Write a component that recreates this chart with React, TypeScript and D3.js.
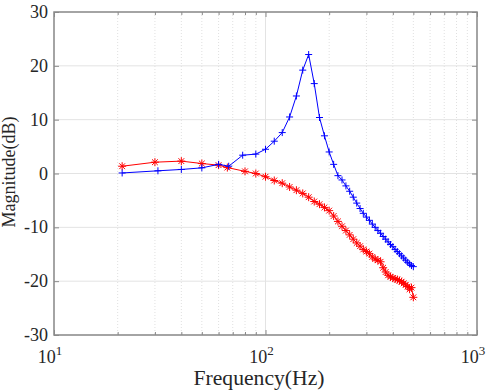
import React, { useEffect, useRef } from 'react';
import * as d3 from 'd3';

// Blue trace (plus markers)
const freqBlue = [
  21, 31, 40, 50, 60, 67, 78, 90, 100, 110, 120, 130, 140, 150, 160, 170, 180, 190, 200, 210, 220,
  230, 240, 250, 260, 270, 280, 290, 300, 310, 320, 330, 340, 350, 360, 370, 380, 390, 400, 410,
  420, 430, 440, 450, 460, 470, 480, 490, 500,
];
const magBlue = [
  0.1, 0.5, 0.75, 1.05, 1.7, 1.35, 3.4, 3.6, 4.5, 6.0, 7.6, 10.5, 14.4, 19.2, 22.1, 16.7, 10.4, 7.0,
  4.0, 1.7, -0.4, -1.2, -2.3, -3.3, -4.4, -5.5, -6.5, -7.4, -8.1, -8.7, -9.4, -10.0, -10.6, -11.1,
  -11.7, -12.2, -12.7, -13.2, -13.6, -14.1, -14.5, -14.9, -15.3, -15.7, -16.1, -16.5, -16.8, -17.1,
  -17.3,
];

// Red trace (asterisk markers)
const freqRed = [
  21, 30, 40, 50, 60, 66, 80, 90, 100, 110, 120, 130, 140, 150, 160, 170, 180, 190, 200, 210, 220,
  230, 240, 250, 260, 270, 280, 290, 300, 310, 320, 330, 340, 350, 360, 370, 380, 390, 400, 410,
  420, 430, 440, 450, 460, 470, 480, 490, 500,
];
const magRed = [
  1.35, 2.1, 2.3, 1.85, 1.55, 1.1, 0.4, 0.0, -0.6, -1.3, -1.8, -2.5, -3.1, -3.7, -4.4, -5.2, -5.7,
  -6.3, -6.9, -7.9, -8.9, -9.8, -10.6, -11.4, -12.2, -12.9, -13.5, -14.1, -14.5, -14.9, -15.5, -15.9,
  -16.1, -16.4, -17.5, -18.3, -18.9, -19.2, -19.4, -19.6, -19.7, -19.9, -20.1, -20.4, -20.7, -21.0,
  -21.5, -21.2, -23.0,
];

// Axis ticks
const yTicks = [-30, -20, -10, 0, 10, 20, 30];
const xMajor = [10, 100, 1000];
const xMinor = [20, 30, 40, 50, 60, 70, 80, 90, 200, 300, 400, 500, 600, 700, 800, 900];
const xExponents = ['1', '2', '3'];

const App: React.FC = () => {
  const svgRef = useRef<SVGSVGElement>(null);

  useEffect(() => {
    if (!svgRef.current) return;
    const svg = d3.select(svgRef.current);
    svg.selectAll('*').remove();

    const left = 54;
    const right = 477;
    const top = 12;
    const bottom = 335;
    const font = '"Liberation Serif", "Times New Roman", serif';
    const axisColor = '#8a8a8a';

    const x = d3.scaleLog().domain([10, 1000]).range([left, right]);
    const y = d3.scaleLinear().domain([-30, 30]).range([bottom, top]);

    // ### Grid
    const grid = svg.append('g');
    grid
      .selectAll('line.ymaj')
      .data(yTicks)
      .join('line')
      .attr('x1', left)
      .attr('x2', right)
      .attr('y1', d => y(d))
      .attr('y2', d => y(d))
      .attr('stroke', '#e3e3e3')
      .attr('stroke-width', 1);
    grid
      .selectAll('line.xmaj')
      .data(xMajor)
      .join('line')
      .attr('x1', d => x(d))
      .attr('x2', d => x(d))
      .attr('y1', top)
      .attr('y2', bottom)
      .attr('stroke', '#e3e3e3')
      .attr('stroke-width', 1);
    grid
      .append('g')
      .selectAll('line')
      .data(xMinor)
      .join('line')
      .attr('x1', d => x(d))
      .attr('x2', d => x(d))
      .attr('y1', top)
      .attr('y2', bottom)
      .attr('stroke', '#e0e0e0')
      .attr('stroke-width', 1)
      .attr('stroke-dasharray', '1,2');

    // ### Axes (ticks inward on all sides)
    const noLabel = () => '';
    const styleAxis = (g: d3.Selection<SVGGElement, unknown, null, undefined>) => {
      g.select('.domain').remove();
      g.selectAll('line').attr('stroke', axisColor);
    };
    svg
      .append('g')
      .attr('transform', `translate(0,${bottom})`)
      .call(d3.axisBottom(x).tickValues(xMajor).tickSize(-5).tickFormat(noLabel))
      .call(styleAxis);
    svg
      .append('g')
      .attr('transform', `translate(0,${bottom})`)
      .call(d3.axisBottom(x).tickValues(xMinor).tickSize(-3).tickFormat(noLabel))
      .call(styleAxis);
    svg
      .append('g')
      .attr('transform', `translate(0,${top})`)
      .call(d3.axisTop(x).tickValues(xMajor).tickSize(-5).tickFormat(noLabel))
      .call(styleAxis);
    svg
      .append('g')
      .attr('transform', `translate(0,${top})`)
      .call(d3.axisTop(x).tickValues(xMinor).tickSize(-3).tickFormat(noLabel))
      .call(styleAxis);
    svg
      .append('g')
      .attr('transform', `translate(${left},0)`)
      .call(d3.axisLeft(y).tickValues(yTicks).tickSize(-5).tickFormat(noLabel))
      .call(styleAxis);
    svg
      .append('g')
      .attr('transform', `translate(${right},0)`)
      .call(d3.axisRight(y).tickValues(yTicks).tickSize(-5).tickFormat(noLabel))
      .call(styleAxis);

    svg
      .append('rect')
      .attr('x', left)
      .attr('y', top)
      .attr('width', right - left)
      .attr('height', bottom - top)
      .attr('fill', 'none')
      .attr('stroke', axisColor)
      .attr('stroke-width', 1.5);

    // ### Tick labels
    svg
      .append('g')
      .selectAll('text')
      .data(yTicks)
      .join('text')
      .attr('x', left - 6)
      .attr('y', d => y(d) + 6)
      .attr('text-anchor', 'end')
      .attr('font-family', font)
      .attr('font-size', 18)
      .attr('fill', '#262626')
      .text(d => String(d));

    const xl = svg
      .append('g')
      .selectAll('text')
      .data(xMajor)
      .join('text')
      .attr('x', d => x(d) - 4)
      .attr('y', bottom + 28)
      .attr('text-anchor', 'middle')
      .attr('font-family', font)
      .attr('font-size', 18)
      .attr('fill', '#262626');
    xl.append('tspan').text('10');
    xl.append('tspan')
      .attr('dy', -8)
      .attr('font-size', 13)
      .text((_, i) => xExponents[i]);

    // ### Axis labels
    svg
      .append('text')
      .attr('x', 259)
      .attr('y', 385)
      .attr('text-anchor', 'middle')
      .attr('font-family', font)
      .attr('font-size', 20)
      .attr('textLength', 131)
      .attr('lengthAdjust', 'spacingAndGlyphs')
      .attr('fill', '#262626')
      .text('Frequency(Hz)');
    svg
      .append('text')
      .attr('transform', `translate(15,172) rotate(-90)`)
      .attr('text-anchor', 'middle')
      .attr('font-family', font)
      .attr('font-size', 18)
      .attr('fill', '#262626')
      .text('Magnitude(dB)');

    // ### Series
    const line = d3
      .line<[number, number]>()
      .x(d => x(d[0]))
      .y(d => y(d[1]));

    const blue = freqBlue.map((f, i) => [f, magBlue[i]] as [number, number]);
    const red = freqRed.map((f, i) => [f, magRed[i]] as [number, number]);

    const plot = svg.append('g');

    const drawSeries = (data: [number, number][], color: string, star: boolean) => {
      plot
        .append('path')
        .datum(data)
        .attr('fill', 'none')
        .attr('stroke', color)
        .attr('stroke-width', 1)
        .attr('d', line);
      const s = star ? 4 : 3.5;
      const k = s * 0.72;
      const d = star
        ? `M${-s},0H${s}M0,${-s}V${s}M${-k},${-k}L${k},${k}M${-k},${k}L${k},${-k}`
        : `M${-s},0H${s}M0,${-s}V${s}`;
      plot
        .append('g')
        .selectAll('path')
        .data(data)
        .join('path')
        .attr('transform', p => `translate(${x(p[0])},${y(p[1])})`)
        .attr('d', d)
        .attr('fill', 'none')
        .attr('stroke', color)
        .attr('stroke-width', 1);
    };

    drawSeries(red, '#ff0000', true);
    drawSeries(blue, '#0000ff', false);
  }, []);

  return (
    <div style={{ width: 492, height: 391 }}>
      <svg
        ref={svgRef}
        width={492}
        height={391}
        style={{ position: 'absolute', left: 0, top: 0, background: '#ffffff' }}
      ></svg>
    </div>
  );
};

export default App;
